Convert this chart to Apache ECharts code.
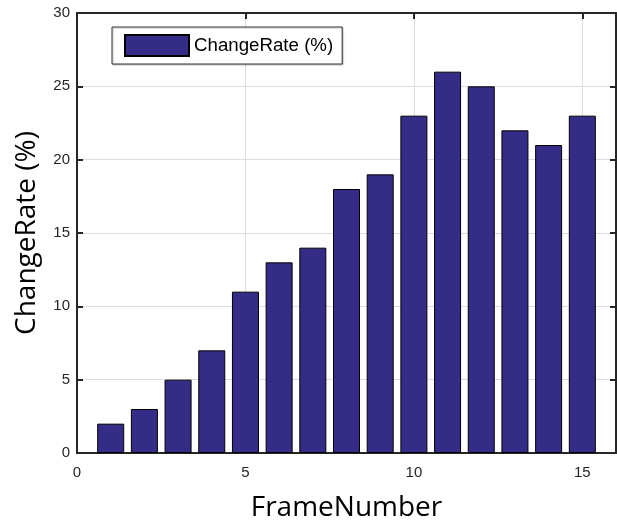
<!DOCTYPE html>
<html><head><meta charset="utf-8">
<script src="https://cdn.jsdelivr.net/npm/echarts@6/dist/echarts.min.js"></script>
<style>html,body{margin:0;padding:0;background:#fff}#c{width:617px;height:520px}</style>
</head><body><div id="c"></div>
<script>
const frames = [1,2,3,4,5,6,7,8,9,10,11,12,13,14,15];
const changeRate = [2,3,5,7,11,13,14,18,19,23,26,25,22,21,23];
const xTicks = [0,5,10,15];
const yTicks = [0,5,10,15,20,25,30];

const chart = echarts.init(document.getElementById('c'));
const lblFont = {fontFamily:'Liberation Sans, Arial', fontSize:15, color:'#262626'};
const axisCommon = {
  axisLine:{show:true,onZero:false,lineStyle:{color:'#262626',width:2}},
  axisTick:{show:true,inside:true,length:6,lineStyle:{color:'#262626',width:2}},
};
chart.setOption({
  animation:false,
  grid:{left:77,top:13,right:1,bottom:67,containLabel:false,outerBoundsMode:'none'},
  legend:{
    show:true,left:112,top:27,orient:'horizontal',
    icon:'rect',
    itemWidth:64,itemHeight:21,itemGap:7,
    padding:[7,9,7,12],
    borderColor:'#333',borderWidth:1,backgroundColor:'#fff',
    shadowColor:'rgba(0,0,0,0.25)',shadowOffsetX:1,shadowOffsetY:1,shadowBlur:1,
    textStyle:{fontFamily:'Liberation Sans, Arial',fontSize:18.7,color:'#000'},
    data:['ChangeRate (%)']
  },
  xAxis:[
    Object.assign({type:'value',min:0,max:16,interval:5,position:'bottom',
      name:'FrameNumber',nameLocation:'middle',nameGap:41,
      nameTextStyle:{fontFamily:'Open Sans',fontSize:28,color:'#000'},
      axisLabel:Object.assign({margin:12,showMaxLabel:false},lblFont),
      splitLine:{show:true,lineStyle:{color:'#dcdcdc',width:1}}},axisCommon),
    Object.assign({type:'value',min:0,max:16,interval:5,position:'top',
      axisLabel:{show:false},splitLine:{show:false}},axisCommon)
  ],
  yAxis:[
    Object.assign({type:'value',min:0,max:30,interval:5,position:'left',
      name:'ChangeRate (%)',nameLocation:'middle',nameGap:36,
      nameTextStyle:{fontFamily:'Open Sans',fontSize:28,color:'#000'},
      axisLabel:Object.assign({margin:7},lblFont),
      splitLine:{show:true,lineStyle:{color:'#dcdcdc',width:1}}},axisCommon),
    Object.assign({type:'value',min:0,max:30,interval:5,position:'right',
      axisLabel:{show:false},splitLine:{show:false}},axisCommon)
  ],
  series:[{
    name:'ChangeRate (%)',type:'bar',barWidth:27,
    data:frames.map((f,i)=>[f,changeRate[i]]),
    itemStyle:{color:'#352c87',borderColor:'#000',borderWidth:1}
  }]
});
</script></body></html>
